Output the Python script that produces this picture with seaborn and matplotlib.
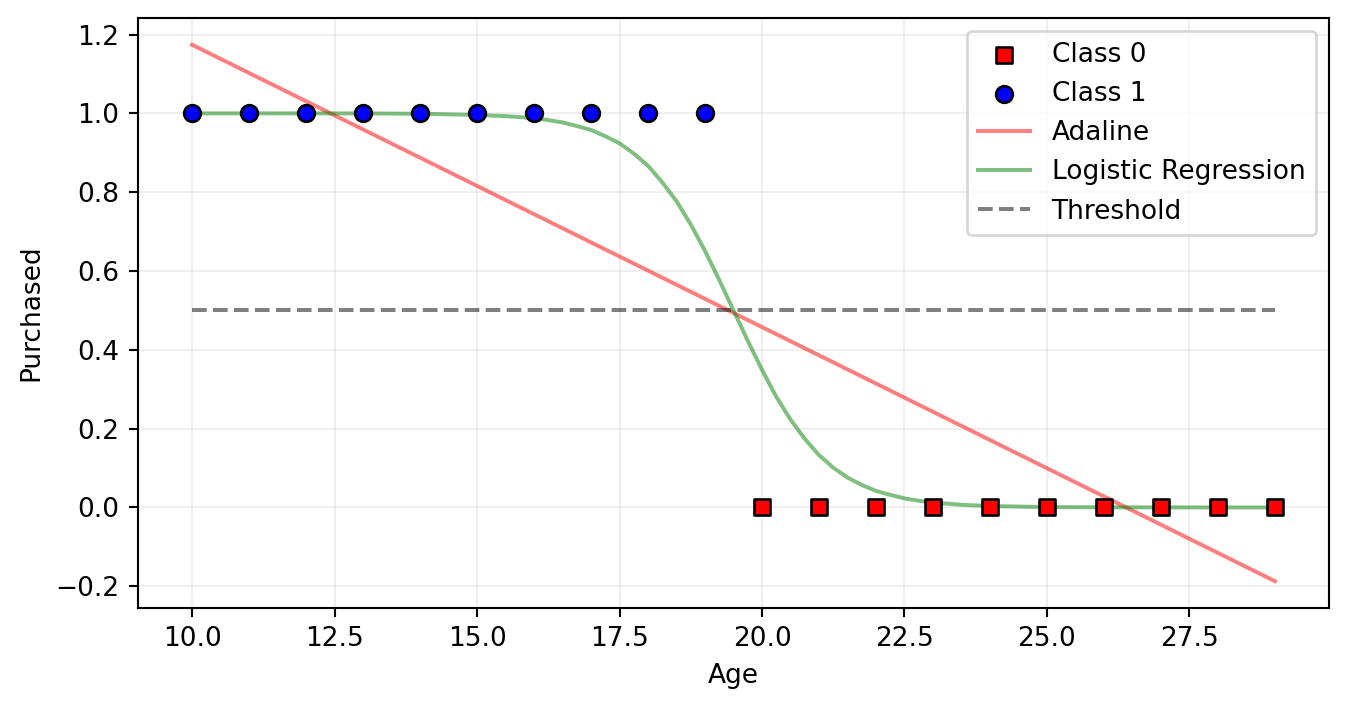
import numpy as np
import matplotlib
matplotlib.use("Agg")
import matplotlib.pyplot as plt
import seaborn as sns

# DATA
age_class0 = [20, 21, 22, 23, 24, 25, 26, 27, 28, 29]
y_class0 = [0] * 10
age_class1 = [10, 11, 12, 13, 14, 15, 16, 17, 18, 19]
y_class1 = [1] * 10

# Adaline output (straight line, read at the ends)
adaline_x = [10, 29]
adaline_y = [1.174, -0.187]

# Logistic regression output
logit_x = [10, 11, 12, 13, 14, 15, 15.5, 16, 16.25, 16.5, 16.75, 17, 17.25, 17.5, 17.75,
           18, 18.25, 18.5, 18.75, 19, 19.25, 19.5, 19.75, 20, 20.25, 20.5, 20.75, 21,
           21.25, 21.5, 21.75, 22, 22.25, 22.5, 22.75, 23, 23.5, 24, 25, 26, 27, 28, 29]
logit_y = [1.0, 1.0, 1.0, 0.9999, 0.999, 0.996, 0.993, 0.988, 0.983, 0.977, 0.968, 0.958,
           0.942, 0.924, 0.898, 0.867, 0.825, 0.777, 0.718, 0.651, 0.577, 0.5, 0.423,
           0.349, 0.281, 0.223, 0.174, 0.133, 0.101, 0.076, 0.057, 0.042, 0.032, 0.023,
           0.017, 0.0125, 0.0068, 0.0036, 0.001, 0.0003, 0.0001, 0.0, 0.0]

threshold_x = [10, 29]
threshold_y = [0.5, 0.5]

#-------------------------------
DPI = 190
fig, ax = plt.subplots(figsize=(1349 / DPI, 711 / DPI), dpi=DPI)
fig.subplots_adjust(left=0.1023, right=0.9852, top=0.9747, bottom=0.1449)

sns.scatterplot(x=age_class0, y=y_class0, marker='s', color='red', edgecolor='black',
                linewidth=1, s=40, label='Class 0', ax=ax, zorder=3)
sns.scatterplot(x=age_class1, y=y_class1, marker='o', color='blue', edgecolor='black',
                linewidth=1, s=40, label='Class 1', ax=ax, zorder=3)
sns.lineplot(x=adaline_x, y=adaline_y, color='red', alpha=0.5, label='Adaline', ax=ax)
sns.lineplot(x=logit_x, y=logit_y, color='green', alpha=0.5, label='Logistic Regression', ax=ax)
sns.lineplot(x=threshold_x, y=threshold_y, color='black', alpha=0.5, linestyle='--',
             label='Threshold', ax=ax)

ax.set_xlabel('Age')
ax.set_ylabel('Purchased')
ax.grid(True, alpha=0.2)
ax.legend(loc='upper right')

plt.savefig('out.png', dpi=DPI)
